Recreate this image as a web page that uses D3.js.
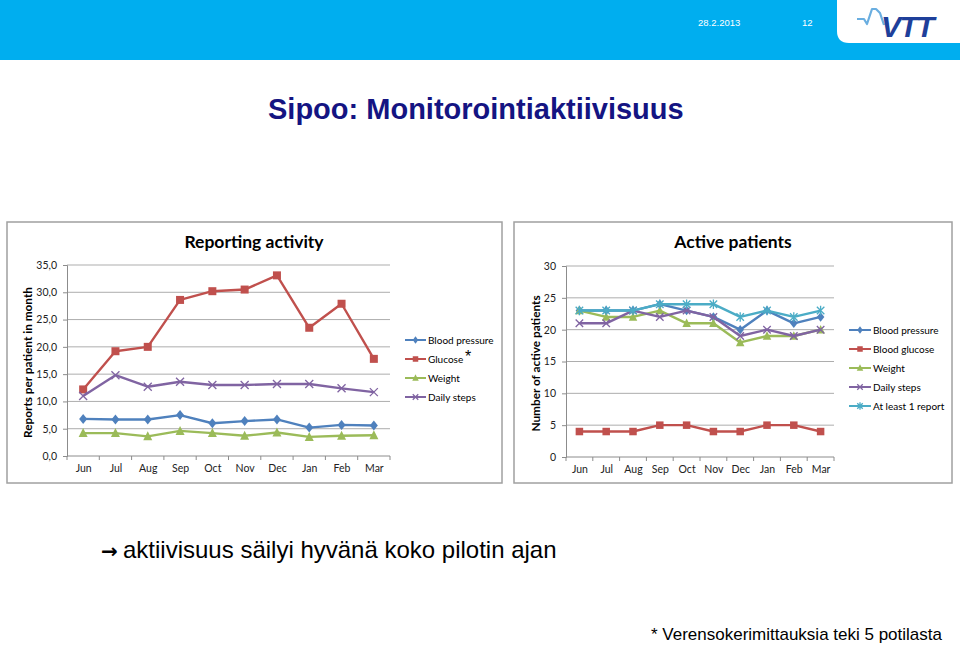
<!DOCTYPE html>
<html>
<head>
<meta charset="utf-8">
<script src="https://cdn.jsdelivr.net/npm/d3@7"></script>
<style>
  html, body { margin: 0; padding: 0; background: #fff; }
  svg { display: block; }
</style>
</head>
<body>
<svg id="c" width="960" height="645"></svg>
<script>
// ---------- DATA ----------
const months = ["Jun","Jul","Aug","Sep","Oct","Nov","Dec","Jan","Feb","Mar"];

// Reporting activity (reports per patient in month)
const repBloodPressure = [6.8, 6.7, 6.7, 7.5, 6.0, 6.4, 6.7, 5.2, 5.7, 5.6];
const repGlucose       = [12.2, 19.2, 20.0, 28.6, 30.2, 30.5, 33.1, 23.5, 27.9, 17.8];
const repWeight        = [4.2, 4.2, 3.6, 4.6, 4.2, 3.7, 4.3, 3.5, 3.7, 3.8];
const repDailySteps    = [11.0, 14.8, 12.7, 13.6, 13.0, 13.0, 13.2, 13.2, 12.4, 11.7];
const repTicks = [0, 5, 10, 15, 20, 25, 30, 35];

// Active patients (number of active patients)
const actBloodPressure = [23, 23, 23, 24, 23, 22, 20, 23, 21, 22];
const actBloodGlucose  = [4, 4, 4, 5, 5, 4, 4, 5, 5, 4];
const actWeight        = [23, 22, 22, 23, 21, 21, 18, 19, 19, 20];
const actDailySteps    = [21, 21, 23, 22, 23, 22, 19, 20, 19, 20];
const actAtLeastOne    = [23, 23, 23, 24, 24, 24, 22, 23, 22, 23];
const actTicks = [0, 5, 10, 15, 20, 25, 30];

// ---------- STYLES ----------
const COL = { blue: "#4F81BD", red: "#C0504D", green: "#9BBB59", purple: "#8064A2", cyan: "#4BACC6" };
const chartFont = "Lato, 'Open Sans', sans-serif";
const arial = "'Liberation Sans', Arial, sans-serif";

const svg = d3.select("#c");

// ---------- HEADER ----------
svg.append("rect").attr("x", 0).attr("y", 0).attr("width", 960).attr("height", 60).attr("fill", "#00AEEF");
svg.append("path")
  .attr("d", "M837,0 L960,0 L960,43 L849,43 Q837,43 837,31 Z")
  .attr("fill", "#fff");
svg.append("text").attr("x", 698).attr("y", 26).text("28.2.2013")
  .attr("fill", "#fff").attr("font-family", arial).attr("font-size", 9.5);
svg.append("text").attr("x", 802).attr("y", 26).text("12")
  .attr("fill", "#fff").attr("font-family", arial).attr("font-size", 9.5);
// VTT logo
svg.append("path")
  .attr("d", "M857,19 L864,19 L867,24 L872,9 L876,9 L880,13 L884,25")
  .attr("fill", "none").attr("stroke", "#6aaee0").attr("stroke-width", 2.2).attr("stroke-linejoin", "round");
svg.append("text").attr("x", 881).attr("y", 37).text("VTT")
  .attr("fill", "#1e3f9a").attr("font-family", arial).attr("font-weight", "bold")
  .attr("font-style", "italic").attr("font-size", 30).attr("letter-spacing", -1.5);

// ---------- TITLE ----------
svg.append("text").attr("x", 268).attr("y", 119).text("Sipoo: Monitorointiaktiivisuus")
  .attr("fill", "#141482").attr("font-family", arial).attr("font-weight", "bold").attr("font-size", 29);

// ---------- MARKERS ----------
function marker(g, type, x, y, s, color) {
  const h = s / 2;
  if (type === "diamond") {
    g.append("path").attr("d", `M${x},${y - h - 1}L${x + h},${y}L${x},${y + h + 1}L${x - h},${y}Z`).attr("fill", color);
  } else if (type === "square") {
    g.append("rect").attr("x", x - h).attr("y", y - h).attr("width", s).attr("height", s).attr("fill", color);
  } else if (type === "triangle") {
    g.append("path").attr("d", `M${x},${y - h - 1}L${x + h + 0.5},${y + h}L${x - h - 0.5},${y + h}Z`).attr("fill", color);
  } else if (type === "x") {
    g.append("path").attr("d", `M${x - h},${y - h}L${x + h},${y + h}M${x - h},${y + h}L${x + h},${y - h}`)
      .attr("stroke", color).attr("stroke-width", 1.3).attr("fill", "none");
  } else if (type === "star") {
    g.append("path").attr("d", `M${x - h},${y - h}L${x + h},${y + h}M${x - h},${y + h}L${x + h},${y - h}M${x},${y - h - 1}L${x},${y + h + 1}`)
      .attr("stroke", color).attr("stroke-width", 1.3).attr("fill", "none");
  }
}

// ---------- CHART ----------
function drawChart(cfg) {
  const g = svg.append("g");
  g.append("rect").attr("x", cfg.box[0]).attr("y", cfg.box[1]).attr("width", cfg.box[2]).attr("height", cfg.box[3])
    .attr("fill", "#fff").attr("stroke", "#a0a0a0").attr("stroke-width", 1.5);

  const xb = d3.scaleBand().domain(months).range([cfg.x0, cfg.x1]);
  const xp = d3.scalePoint().domain(months).range([cfg.x0, cfg.x1]).padding(0.5);
  const y = d3.scaleLinear().domain([0, cfg.ymax]).range([cfg.yb, cfg.yt]);

  g.append("g").selectAll("line").data(cfg.ticks.filter(t => t > 0)).join("line")
    .attr("x1", cfg.x0).attr("x2", cfg.x1).attr("y1", d => y(d)).attr("y2", d => y(d))
    .attr("stroke", "#adadad").attr("stroke-width", 1);

  const ya = d3.axisLeft(y).tickValues(cfg.ticks).tickSize(4).tickPadding(6).tickFormat(cfg.fmt);
  const yg = g.append("g").attr("transform", `translate(${cfg.x0},0)`).call(ya);
  yg.select(".domain").attr("stroke", "#8c8c8c");
  yg.selectAll(".tick line").attr("stroke", "#8c8c8c");
  yg.selectAll("text").attr("font-family", chartFont).attr("font-size", 10.5).attr("fill", "#222");

  const xa = d3.axisBottom(xp).tickSize(0).tickPadding(9);
  const xg = g.append("g").attr("transform", `translate(0,${cfg.yb})`).call(xa);
  xg.select(".domain").attr("stroke", "#8c8c8c").attr("d", `M${cfg.x0},0H${cfg.x1}`);
  xg.selectAll("text").attr("font-family", chartFont).attr("font-size", 10.5).attr("fill", "#222");
  g.append("g").selectAll("line").data(months.map(m => xb(m)).concat([cfg.x1])).join("line")
    .attr("x1", d => d).attr("x2", d => d).attr("y1", cfg.yb).attr("y2", cfg.yb + 4)
    .attr("stroke", "#8c8c8c");

  g.append("text").attr("x", cfg.titleX).attr("y", 248).attr("text-anchor", "middle").text(cfg.title)
    .attr("font-family", chartFont).attr("font-weight", "bold").attr("font-size", 17.5).attr("fill", "#000");
  g.append("text").attr("transform", `translate(${cfg.ytX},${(cfg.yb + cfg.yt) / 2 + 2}) rotate(-90)`)
    .attr("text-anchor", "middle").text(cfg.ytitle)
    .attr("font-family", chartFont).attr("font-weight", "bold").attr("font-size", 11.8).attr("fill", "#000");

  const line = d3.line().x((d, i) => xp(months[i])).y(d => y(d));
  cfg.series.forEach(s => {
    g.append("path").attr("d", line(s.values)).attr("fill", "none").attr("stroke", s.color)
      .attr("stroke-width", 2.4).attr("stroke-linejoin", "round");
    s.values.forEach((v, i) => marker(g, s.marker, xp(months[i]), y(v), cfg.msize, s.color));
  });

  cfg.series.forEach((s, i) => {
    const ly = cfg.legY + i * cfg.legStep;
    g.append("line").attr("x1", cfg.legX).attr("x2", cfg.legX + cfg.legLen).attr("y1", ly).attr("y2", ly)
      .attr("stroke", s.color).attr("stroke-width", 2);
    marker(g, s.marker, cfg.legX + cfg.legLen / 2, ly, 5.5, s.color);
    g.append("text").attr("x", cfg.legX + cfg.legLen + 2).attr("y", ly + 3.5).text(s.name)
      .attr("font-family", chartFont).attr("font-size", 10).attr("fill", "#000");
  });
  return g;
}

const commaFmt = d => d3.format(".1f")(d).replace(".", ",");

const left = drawChart({
  box: [7, 222, 495, 261],
  x0: 67, x1: 390, yb: 456, yt: 265, ymax: 35, ticks: repTicks, fmt: commaFmt,
  title: "Reporting activity", titleX: 254, ytitle: "Reports per patient in month", ytX: 32,
  msize: 8,
  legX: 405, legLen: 21, legY: 340, legStep: 19,
  series: [
    { name: "Blood pressure", values: repBloodPressure, color: COL.blue, marker: "diamond" },
    { name: "Glucose", values: repGlucose, color: COL.red, marker: "square" },
    { name: "Weight", values: repWeight, color: COL.green, marker: "triangle" },
    { name: "Daily steps", values: repDailySteps, color: COL.purple, marker: "x" }
  ]
});
left.append("text").attr("x", 465).attr("y", 362).text("*")
  .attr("font-family", arial).attr("font-size", 16).attr("fill", "#000");

drawChart({
  box: [514, 222, 438, 261],
  x0: 566, x1: 834, yb: 457, yt: 266, ymax: 30, ticks: actTicks, fmt: d3.format("d"),
  title: "Active patients", titleX: 733, ytitle: "Number of active patients", ytX: 540,
  msize: 7.5,
  legX: 849, legLen: 22, legY: 330, legStep: 19,
  series: [
    { name: "Blood pressure", values: actBloodPressure, color: COL.blue, marker: "diamond" },
    { name: "Blood glucose", values: actBloodGlucose, color: COL.red, marker: "square" },
    { name: "Weight", values: actWeight, color: COL.green, marker: "triangle" },
    { name: "Daily steps", values: actDailySteps, color: COL.purple, marker: "x" },
    { name: "At least 1 report", values: actAtLeastOne, color: COL.cyan, marker: "star" }
  ]
});

// ---------- BOTTOM TEXT ----------
svg.append("text").attr("x", 101).attr("y", 558).text("→")
  .attr("font-family", "'DejaVu Sans', sans-serif").attr("font-weight", "bold").attr("font-size", 20).attr("fill", "#000");
svg.append("text").attr("x", 123).attr("y", 558).text("aktiivisuus säilyi hyvänä koko pilotin ajan")
  .attr("font-family", arial).attr("font-size", 24).attr("fill", "#000");
svg.append("text").attr("x", 942).attr("y", 640).attr("text-anchor", "end").text("* Verensokerimittauksia teki 5 potilasta")
  .attr("font-family", arial).attr("font-size", 17).attr("fill", "#000");
</script>
</body>
</html>
